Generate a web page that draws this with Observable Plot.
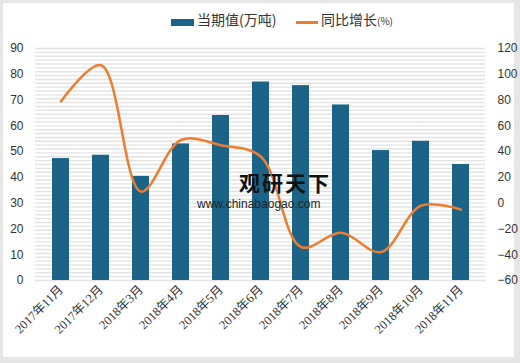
<!DOCTYPE html>
<html>
<head>
<meta charset="utf-8">
<script src="https://cdn.jsdelivr.net/npm/d3@7"></script>
<script src="https://cdn.jsdelivr.net/npm/@observablehq/plot@0.6"></script>
<style>
  html, body { margin: 0; padding: 0; background: #e6e6e6; width: 520px; height: 363px; overflow: hidden; }
  #frame { position: absolute; left: 3px; top: 3px; width: 511px; height: 354px; background: #fff; }
  #legend { position: absolute; top: 9px; left: 0; width: 511px; height: 22px; font-family: "Noto Sans CJK SC", sans-serif; font-size: 14px; color: #333; }
  .sw { position: absolute; white-space: nowrap; }
  #chart { position: absolute; left: 0; top: 30px; }
  #chart svg { overflow: visible; }
  #wm { position: absolute; left: 190px; top: 166px; font-family: "Noto Sans CJK SC", sans-serif; color: #111; pointer-events: none; }
</style>
</head>
<body>
<div id="frame">
  <div id="legend">
    <div class="sw" style="left:168px;top:7px;width:23px;height:7px;background:#1b6488"></div>
    <div class="sw" style="left:194px;top:-3px;">当期值(万吨)</div>
    <div class="sw" style="left:293px;top:9px;width:22px;height:2.5px;background:#ed7d31"></div>
    <div class="sw" style="left:318px;top:-3px;">同比增长<span style="font-size:10px">(%)</span></div>
  </div>
  <div id="chart"></div>
  <div id="wm">
    <div style="position:absolute;left:46px;top:0px;font-size:21px;font-weight:bold;letter-spacing:2px;white-space:nowrap;line-height:26px;">观研天下</div>
    <div style="position:absolute;left:4px;top:28px;font-size:12px;font-family:'Liberation Sans',sans-serif;white-space:nowrap;color:#222;line-height:14px;">www.chinabaogao.com</div>
  </div>
</div>
<script>
const categories = ["2017年11月","2017年12月","2018年3月","2018年4月","2018年5月","2018年6月","2018年7月","2018年8月","2018年9月","2018年10月","2018年11月"];
const values = [47.3, 48.6, 40.4, 53, 64, 77, 75.6, 68.1, 50.4, 54, 45];
const growth = [79, 107, 9, 49, 45, 36, -34, -23, -38, -2, -5];
const leftTicks = [0,10,20,30,40,50,60,70,80,90];
const rightTicks = [-60,-40,-20,0,20,40,60,80,100,120];

const toLeft = g => (g + 60) / 2; // right axis -60..120 maps to left 0..90
const rows = categories.map((c, i) => ({cat: c, v: values[i], g: growth[i]}));

const chart = Plot.plot({
  width: 511,
  height: 322,
  marginLeft: 32,
  marginRight: 29,
  marginTop: 15,
  marginBottom: 75,
  style: {fontFamily: "'Liberation Sans', 'Noto Sans CJK SC', sans-serif", fontSize: "12px", color: "#333", background: "transparent", overflow: "visible"},
  x: {domain: categories, paddingInner: 0.58, paddingOuter: 0.29, label: null},
  y: {domain: [0, 90], label: null},
  marks: [
    Plot.ruleY(d3.range(0, 90.01, 1.5), {stroke: "#e3e3e3", strokeWidth: 1.4}),
    Plot.barY(rows, {x: "cat", y: "v", fill: "#1b6488"}),
    Plot.line(rows, {x: "cat", y: d => toLeft(d.g), stroke: "#ed7d31", strokeWidth: 2.5, curve: "catmull-rom"}),
    Plot.axisY(leftTicks, {anchor: "left", tickSize: 0, tickPadding: 12, label: null, fontSize: 12}),
    Plot.axisY(rightTicks.map(toLeft), {anchor: "right", tickSize: 0, tickPadding: 12, label: null, fontSize: 12, textAnchor: "start", tickFormat: t => String(t * 2 - 60).replace("-", "−")}),
    Plot.axisX({tickSize: 0, tickPadding: 7, tickRotate: -45, label: null, fontSize: 12.5})
  ]
});
d3.select(chart).selectAll("text").each(function () {
  if (categories.includes(this.textContent)) {
    this.style.fontFamily = "'Liberation Serif', 'Noto Sans CJK SC', serif";
  }
});
document.getElementById("chart").appendChild(chart);
</script>
</body>
</html>
